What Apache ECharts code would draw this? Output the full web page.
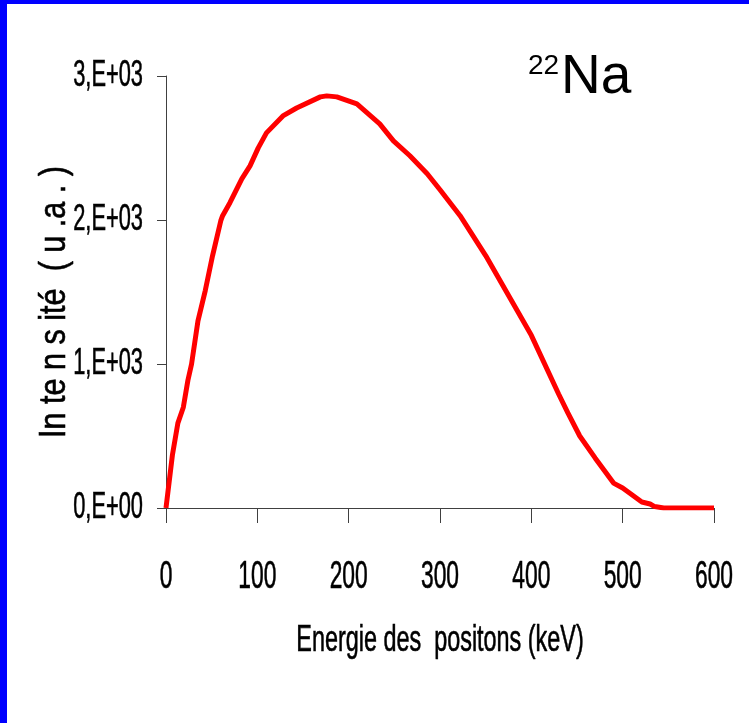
<!DOCTYPE html>
<html>
<head>
<meta charset="utf-8">
<script src="https://cdn.jsdelivr.net/npm/echarts@6/dist/echarts.min.js"></script>
<style>
  html, body { margin: 0; padding: 0; background: #fff; }
  #chart { position: absolute; left: 0; top: 0; width: 749px; height: 723px; }
  #frame {
    position: absolute; left: 0; top: 0; width: 749px; height: 723px; box-sizing: border-box;
    border-left: 7px solid #0000ff; border-top: 4px solid #0000ff; pointer-events: none;
  }
</style>
</head>
<body>
<div id="chart"></div>
<div id="frame"></div>
<script>
  // energie des positons (keV)
  var energy = [0, 7, 13, 19, 24, 28, 35, 43, 51, 60, 62, 70, 83, 92, 101, 110, 128, 143, 169, 176, 187,
    209, 234, 249, 267, 286, 300, 322, 350, 400, 430, 440, 453, 470, 490, 500, 521, 530, 535, 545, 600];
  // intensite (u.a.)
  var intensity = [0, 367, 589, 700, 887, 1000, 1300, 1510, 1753, 1995, 2030, 2120, 2286, 2376, 2501, 2605,
    2723, 2778, 2855, 2862, 2855, 2806, 2667, 2550, 2446, 2321, 2210, 2030, 1753, 1199, 790, 660, 500, 346,
    173, 139, 42, 28, 10, 0, 0];
  var yTicks = [0, 1000, 2000, 3000];
  var yTickLabels = ['0,E+00', '1,E+03', '2,E+03', '3,E+03'];
  var xTicks = [0, 100, 200, 300, 400, 500, 600];
  var xTitle = 'Energie des  positons (keV)';
  var yTitle = 'In te n s ité  ( u .a . )';

  var sans = '"Liberation Sans", Arial, sans-serif';
  var points = energy.map(function (e, i) { return [e, intensity[i]]; });

  var chart = echarts.init(document.getElementById('chart'));
  chart.setOption({
    animation: false,
    backgroundColor: '#fff',
    title: [
      { text: '22', left: 528, top: 52, padding: 0,
        textStyle: { fontFamily: sans, fontSize: 28, fontWeight: 'normal', color: '#000' } },
      { text: 'Na', left: 561, top: 50, padding: 0,
        textStyle: { fontFamily: sans, fontSize: 55, fontWeight: 'normal', color: '#000' } }
    ],
    grid: { left: 166, right: 35, top: 76, bottom: 215, outerBoundsMode: 'none' },
    xAxis: {
      type: 'value', min: 0, max: 600, interval: 100,
      axisLine: { onZero: false, lineStyle: { color: '#404040', width: 1 } },
      axisTick: { show: true, length: 15, lineStyle: { color: '#404040' } },
      axisLabel: { show: false },
      splitLine: { show: false }
    },
    yAxis: {
      type: 'value', min: 0, max: 3000, interval: 1000,
      axisLine: { show: true, lineStyle: { color: '#404040', width: 1 } },
      axisTick: { show: true, length: 9, lineStyle: { color: '#404040' } },
      axisLabel: { show: false },
      splitLine: { show: false }
    },
    series: [{
      type: 'line', data: points, showSymbol: false, smooth: false,
      lineStyle: { color: '#ff0000', width: 5 }, z: 5
    }]
  });

  // condensed labels (narrow font), placed with the axes' own scales
  function label(text, x, y, size, sx, align, rot) {
    return {
      type: 'text', x: x, y: y, scaleX: sx, rotation: rot || 0, silent: true,
      style: { text: text, font: size + 'px ' + sans, fill: '#000',
        stroke: '#000', lineWidth: 0.6,
        textAlign: align, textVerticalAlign: 'middle' }
    };
  }
  var g = [];
  yTicks.forEach(function (v, i) {
    var p = chart.convertToPixel({ yAxisIndex: 0 }, v);
    g.push(label(yTickLabels[i], 143, p, 37, 0.59, 'right'));
  });
  xTicks.forEach(function (v) {
    var p = chart.convertToPixel({ xAxisIndex: 0 }, v);
    g.push(label(String(v), p, 578, 38, 0.6, 'center'));
  });
  var xMid = chart.convertToPixel({ xAxisIndex: 0 }, 300);
  var yMid = chart.convertToPixel({ yAxisIndex: 0 }, 1500);
  g.push(label(xTitle, xMid, 641, 36, 0.65, 'center'));
  g.push(label(yTitle, 55, yMid + 10, 36, 0.85, 'center', Math.PI / 2));
  chart.setOption({ graphic: g });
</script>
</body>
</html>
